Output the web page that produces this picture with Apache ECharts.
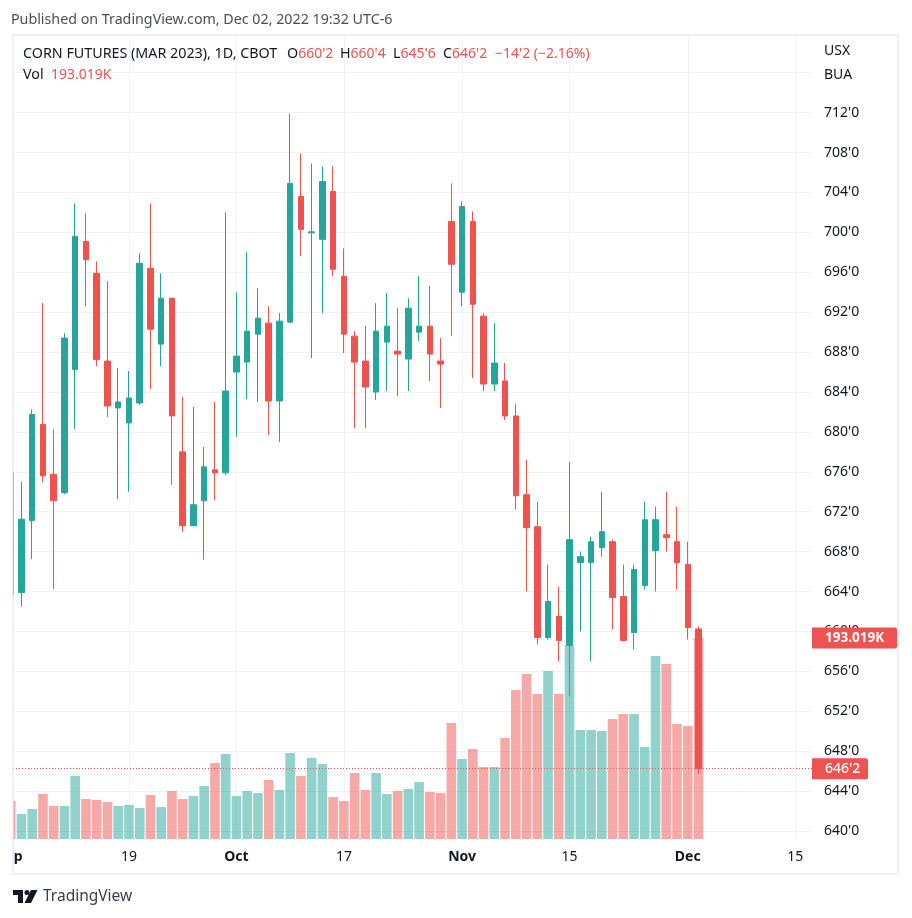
<!DOCTYPE html>
<html>
  <head>
    <meta charset="utf-8" />
    <title>Corn futures</title>
    <script src="https://cdn.jsdelivr.net/npm/echarts@6/dist/echarts.min.js"></script>
    <style>
      html, body { margin: 0; padding: 0; background: #fff; }
    </style>
  </head>
  <body>
    <div id="chart" style="width: 912px; height: 918px"></div>

    <script type="text/javascript">
// First entry is the cut-off candle at the left edge, so bar numbers start at -1.
const first_bar = -1;

const opens = [676, 663.9, 671.1, 680.75, 675.75, 673.9, 686.25, 699.1, 695.9, 687.1, 682.4, 680.9, 682.9,
  696.4, 688.8, 693.4, 678, 670.6, 673.1, 676.2, 675.9, 686, 687, 689.8, 690.9, 683.1, 691, 703.6, 699.95,
  699.3, 704.1, 695.6, 689.6, 687.1, 684, 689, 688.1, 687.3, 690, 690.6, 687.1, 701.1, 694, 701.1, 691.6,
  684.8, 685.1, 681.6, 673.7, 670.5, 659.4, 661.5, 658.6, 666.9, 666.9, 668.4, 669, 663.5, 659.9, 664.6,
  668.1, 669.7, 669, 666.7, 660.25];
const closes = [663.7, 671.25, 681.75, 675.6, 673.1, 689.4, 699.6, 697.25, 687.25, 682.6, 683, 683.4, 696.9,
  690.3, 693.4, 681.6, 670.6, 672.7, 676.5, 675.9, 684.1, 687.6, 690.1, 691.4, 683.1, 691.1, 704.9, 700.3, 700.05,
  705.1, 696.3, 689.8, 687, 684.5, 690.1, 690.6, 687.8, 692.4, 690.6, 687.8, 686.8, 696.8, 702.6, 692.8, 684.8,
  686.9, 681.6, 673.6, 670.4, 659.4, 663, 659.1, 669.2, 667.5, 669, 670, 663.4, 659.1, 666.2, 671.2,
  671.2, 669.4, 666.9, 660.4, 646.25];
const lows = [663.7, 662.5, 667.25, 675, 664.25, 673.75, 680.25, 692.6, 686.6, 681.5, 673.25, 674, 682.7,
  684.3, 686.6, 674.7, 670, 670.6, 667.2, 673.2, 675.7, 679.5, 683.3, 683, 679.7, 679, 691, 697.6, 687.4,
  691.9, 695.6, 687.9, 680.4, 680.4, 683.2, 684.1, 683.6, 684.1, 689.1, 685.1, 682.4, 689.6, 692.6, 685.4, 684.1,
  684.1, 681.2, 672.2, 664, 658.7, 659.2, 657, 653.5, 660, 657, 667.5, 660.2, 659, 658.2, 664.2,
  664, 668, 664.2, 659.2, 645.75];
const highs = [676, 675, 682.25, 692.9, 680.25, 689.9, 702.9, 701.9, 697.1, 695.1, 686.4, 686.1, 697.9,
  702.9, 695.9, 693.4, 683.5, 682.5, 678.5, 683, 702, 694, 698, 694.4, 692.6, 691.9, 711.9, 707.9, 706.9,
  706.6, 706.6, 698.4, 690.1, 690.6, 692.9, 693.9, 692.4, 693.4, 695.6, 694.6, 689.4, 704.9, 703.1, 702.1, 691.9,
  690.9, 686.9, 682.8, 677.2, 673, 666.7, 664.5, 677, 668, 669.5, 674, 669.2, 666.7, 666.7, 673,
  672.5, 674, 672.5, 669, 660.5];
// Volume in thousands.
const volumes = [36.5, 24, 28.8, 43.2, 31.7, 31.7, 60.5, 38.4, 37.5, 35.5, 31.7, 32.7, 29.8,
  42.3, 30.7, 46.1, 38.4, 41.3, 50.9, 73, 81.6, 41.3, 46.1, 44.2, 56.7, 47.1, 82.6, 60.5, 77.8,
  72, 40.3, 36.5, 63.4, 47.1, 63.4, 43.2, 46.1, 48, 54.7, 45.1, 44.2, 111.4, 76.8, 86.4, 69.1,
  69.1, 97, 143.1, 158.5, 139.2, 161.3, 139.2, 186.3, 104.7, 104.7, 103.7, 115.2, 120, 120, 88.3,
  175.7, 168, 110.4, 108.5, 193.019];

// Time axis: bar numbers where a date label sits.
const date_ticks = [10, 20, 30, 41, 51, 62, 72];
const date_labels = ['19', 'Oct', '17', 'Nov', '15', 'Dec', '15'];
const month_labels = ['Oct', 'Nov', 'Dec'];

const price_grid = [640, 644, 648, 652, 656, 660, 664, 668, 672, 676, 680, 684, 688, 692, 696, 700, 704, 708, 712, 716];
const price_labels = [640, 644, 648, 652, 656, 660, 664, 668, 672, 676, 680, 684, 688, 692, 696, 700, 704, 708, 712];

const last_close = 646.25;
const last_volume = 193.019;

// Header line: [left, label, value]
const header_items = [
  [23, 'CORN FUTURES (MAR 2023), 1D, CBOT', ''],
  [287, 'O', "660'2"],
  [340, 'H', "660'4"],
  [393, 'L', "645'6"],
  [443, 'C', "646'2"],
  [495, '', "\u221214'2 (\u22122.16%)"],
];

const UP = '#26a69a';
const DOWN = '#ef5350';
const GRID = '#f1f2f6';
const FRAME = '#eeeff5';
const TEXT = '#131722';
const FONT = '"Noto Sans", sans-serif';

const candle_data = opens.map((o, i) => [first_bar + i, o, closes[i], lows[i], highs[i]]);
const volume_data = volumes.map((v, i) => ({
  value: [first_bar + i, v],
  itemStyle: { color: closes[i] >= opens[i] ? UP : DOWN, opacity: 0.5 },
}));

// The "Sep" label is cut by the pane edge, only its last letter shows.
const cut_label_pos = -0.32;

function dateLabel(value) {
  if (value === cut_label_pos) return '{m|p}';
  const text = date_labels[date_ticks.indexOf(value)];
  return month_labels.includes(text) ? '{m|' + text + '}' : text;
}

const header_graphics = header_items.map(([left, label, value]) => ({
  type: 'text',
  left: left,
  top: 47,
  z: 8,
  style: {
    text: label + (value ? '{r|' + value + '}' : ''),
    fill: TEXT,
    font: '14.3px ' + FONT,
    rich: { r: { fill: DOWN, font: '14px ' + FONT } },
  },
}));

const option = {
  animation: false,
  textStyle: { fontFamily: FONT },
  grid: { left: 13, right: 100, top: 35, bottom: 79 },
  xAxis: {
    type: 'value',
    min: -0.79,
    max: 73.56,
    axisLine: { show: false },
    axisTick: { show: false, customValues: date_ticks },
    splitLine: { show: true, lineStyle: { color: GRID, width: 1 } },
    axisLabel: {
      customValues: [cut_label_pos].concat(date_ticks),
      formatter: dateLabel,
      color: TEXT,
      fontSize: 14,
      margin: 11,
      rich: { m: { fontWeight: 'bold', fontSize: 14, color: TEXT, fontFamily: FONT } },
    },
  },
  yAxis: [
    {
      type: 'value',
      position: 'right',
      min: 639.2,
      max: 719.78,
      axisLine: { show: false },
      axisTick: { show: false, customValues: price_grid },
      splitLine: { show: true, lineStyle: { color: GRID, width: 1 } },
      axisLabel: {
        customValues: price_labels,
        formatter: (v) => v + "'0",
        color: TEXT,
        fontSize: 14,
        margin: 12,
        padding: [4, 0, 0, 0],
      },
    },
    {
      // Volume overlay, no scale of its own on screen.
      type: 'value',
      show: false,
      min: 0,
      max: 772.1,
    },
  ],
  series: [
    {
      type: 'bar',
      yAxisIndex: 1,
      z: 1,
      barWidth: 9.6,
      clip: true,
      data: volume_data,
      markLine: {
        silent: true,
        symbol: 'none',
        z: 6,
        lineStyle: { color: 'rgba(0,0,0,0)', width: 0 },
        label: {
          position: 'end',
          distance: 0,
          formatter: last_volume.toFixed(3) + 'K',
          color: '#fff',
          fontSize: 13.5,
          fontWeight: 'bold',
          fontFamily: FONT,
          backgroundColor: DOWN,
          width: 70,
          align: 'left',
          padding: [4, 2, 3, 13],
          borderRadius: [0, 2, 2, 0],
        },
        data: [{ yAxis: last_volume }],
      },
    },
    {
      type: 'candlestick',
      z: 3,
      barWidth: 6,
      clip: true,
      encode: { x: 0, y: [1, 2, 3, 4] },
      itemStyle: {
        color: UP,
        color0: DOWN,
        borderColor: UP,
        borderColor0: DOWN,
        borderWidth: 1,
      },
      data: candle_data,
      markLine: {
        silent: true,
        symbol: 'none',
        z: 6,
        lineStyle: { color: DOWN, type: [1, 2], width: 1 },
        label: {
          position: 'end',
          distance: 0,
          formatter: "646'2",
          color: '#fff',
          fontSize: 14,
          fontWeight: 500,
          fontFamily: FONT,
          backgroundColor: DOWN,
          width: 41,
          align: 'left',
          padding: [4, 2, 3, 13],
          borderRadius: [0, 2, 2, 0],
        },
        data: [{ yAxis: last_close }],
      },
    },
  ],
  graphic: [
    // Chart frame
    { type: 'rect', z: 0, silent: true, shape: { x: 13, y: 35, width: 885, height: 839 }, style: { fill: 'none', stroke: FRAME, lineWidth: 2 } },
    // Pane edge: hides what the left-most bars leave outside of it
    { type: 'rect', z: 20, silent: true, shape: { x: 0, y: 36, width: 13.3, height: 804 }, style: { fill: '#fff' } },
    { type: 'rect', z: 21, silent: true, shape: { x: 12, y: 36, width: 1.3, height: 804 }, style: { fill: FRAME } },
    { type: 'text', left: 11, top: 13, style: { text: 'Published on TradingView.com, Dec 02, 2022 19:32 UTC-6', fill: '#4a4e59', font: '14.25px ' + FONT } },
    {
      type: 'text', left: 23, top: 68, z: 8,
      style: {
        text: 'Vol  {r|193.019K}',
        fill: TEXT,
        font: '14.3px ' + FONT,
        rich: { r: { fill: DOWN, font: '14px ' + FONT } },
      },
    },
    { type: 'text', left: 824, top: 44, style: { text: 'USX', fill: TEXT, font: '14px ' + FONT } },
    { type: 'text', left: 824, top: 68, style: { text: 'BUA', fill: TEXT, font: '14px ' + FONT } },
    // TradingView mark
    { type: 'polygon', shape: { points: [[13, 890], [23, 890], [23, 903], [18, 903], [18, 895], [13, 895]] }, style: { fill: TEXT } },
    { type: 'circle', shape: { cx: 27, cy: 892.5, r: 2.5 }, style: { fill: TEXT } },
    { type: 'polygon', shape: { points: [[31, 890], [37.5, 890], [31, 903], [24.5, 903]] }, style: { fill: TEXT } },
    { type: 'text', left: 43, top: 889, style: { text: 'TradingView', fill: '#3a3e49', font: '15.5px ' + FONT } },
  ].concat(header_graphics),
};

const chart = echarts.init(document.getElementById('chart'));
chart.setOption(option);
    </script>
  </body>
</html>
